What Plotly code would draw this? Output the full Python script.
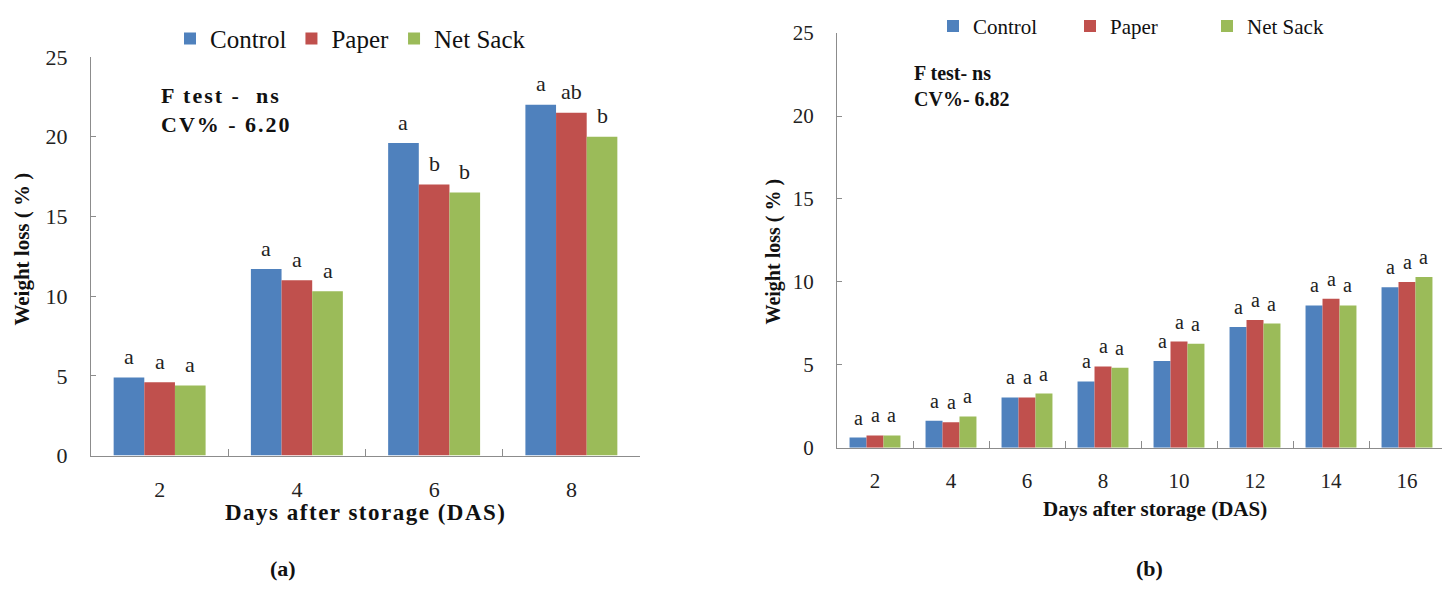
import plotly.graph_objects as go

# ---- data -------------------------------------------------------------
series_names = ["Control", "Paper", "Net Sack"]
series_colors = ["#4F81BD", "#C0504D", "#9BBB59"]

# (a) weight loss during storage, 2-8 DAS
days_a = ["2", "4", "6", "8"]
control_a = [4.9, 11.7, 19.6, 22.0]
paper_a = [4.6, 11.0, 17.0, 21.5]
netsack_a = [4.4, 10.3, 16.5, 20.0]
letters_control_a = ["a", "a", "a", "a"]
letters_paper_a = ["a", "a", "b", "ab"]
letters_netsack_a = ["a", "a", "b", "b"]

# (b) weight loss during storage, 2-16 DAS
days_b = ["2", "4", "6", "8", "10", "12", "14", "16"]
control_b = [0.62, 1.64, 3.04, 4.0, 5.23, 7.29, 8.58, 9.68]
paper_b = [0.75, 1.55, 3.04, 4.91, 6.41, 7.70, 8.99, 10.0]
netsack_b = [0.75, 1.89, 3.27, 4.83, 6.27, 7.49, 8.58, 10.3]
letters_control_b = ["a"] * 8
letters_paper_b = ["a"] * 8
letters_netsack_b = ["a"] * 8

stats_a = ["F test -\u00a0 ns", "CV% - 6.20"]
stats_b = ["F test- ns", "CV%- 6.82"]

y_ticks = [0, 5, 10, 15, 20, 25]

# ---- page geometry (pixels) -------------------------------------------
W, H = 1442, 594
SERIF = "'Liberation Serif', 'Times New Roman', serif"
AXIS_GREY = "#8C8C8C"
BARGAP = 0.33


def px(x):
    return x / W


def py(y):
    return 1 - y / H


def spaced(text, gap):
    # widen the lettering of panel (a) text
    return f'<span style="letter-spacing:{gap}px">{text}</span>'


# plot areas: left, right, top, bottom in pixels
area_a = (91, 640, 47, 463)
area_b = (837, 1442, 22, 455)
cat_w_b = 76.0  # category width of panel (b); its last category runs past the page edge

fig = go.Figure()

panel_a = [control_a, paper_a, netsack_a]
panel_b = [control_b, paper_b, netsack_b]
letters_a = [letters_control_a, letters_paper_a, letters_netsack_a]
letters_b = [letters_control_b, letters_paper_b, letters_netsack_b]

for name, color, vals in zip(series_names, series_colors, panel_a):
    fig.add_trace(go.Bar(x=days_a, y=vals, name=name, marker_color=color,
                         marker_line_width=0, xaxis="x", yaxis="y",
                         legend="legend", offsetgroup=name + "a"))

for name, color, vals in zip(series_names, series_colors, panel_b):
    fig.add_trace(go.Bar(x=days_b, y=vals, name=name, marker_color=color,
                         marker_line_width=0, xaxis="x2", yaxis="y2",
                         legend="legend2", offsetgroup=name + "b"))

annotations = []

# significance letters above each bar (x given as category index)
bar_w_a = (area_a[1] - area_a[0]) / len(days_a) * (1 - BARGAP) / 3
bar_w_b = cat_w_b * (1 - BARGAP) / 3
for k, (vals, lets) in enumerate(zip(panel_a, letters_a)):
    for i, (v, t) in enumerate(zip(vals, lets)):
        annotations.append(dict(x=i, y=v, xref="x", yref="y", text=t,
                                showarrow=False, xshift=(k - 1) * bar_w_a,
                                yshift=21, yanchor="middle",
                                font=dict(family=SERIF, size=22, color="#222")))
for k, (vals, lets) in enumerate(zip(panel_b, letters_b)):
    for i, (v, t) in enumerate(zip(vals, lets)):
        annotations.append(dict(x=i, y=v, xref="x2", yref="y2", text=t,
                                showarrow=False, xshift=(k - 1) * bar_w_b,
                                yshift=20, yanchor="middle",
                                font=dict(family=SERIF, size=20, color="#222")))

# statistics notes
annotations.append(dict(x=px(159), y=py(102), xref="paper", yref="paper",
                        text="<br>".join(spaced(s, 2) for s in stats_a),
                        showarrow=False, xanchor="left", yanchor="middle",
                        align="left",
                        font=dict(family=SERIF, size=22, color="#111",
                                  weight="bold")))
annotations.append(dict(x=px(912), y=py(77), xref="paper", yref="paper",
                        text="<br>".join(stats_b),
                        showarrow=False, xanchor="left", yanchor="middle",
                        align="left",
                        font=dict(family=SERIF, size=20, color="#111",
                                  weight="bold")))


# axis titles and panel captions
def label(x, y, text, size, angle=0):
    return dict(x=px(x), y=py(y), xref="paper", yref="paper", text=text,
                showarrow=False, xanchor="center", yanchor="middle",
                textangle=angle,
                font=dict(family=SERIF, size=size, color="#111", weight="bold"))


annotations += [
    label(22, 248, "Weight loss ( % )", 21, -90),
    label(773, 250, "Weight loss ( % )", 20, -90),
    label(365.5, 523, spaced("Days after storage (DAS)", 1.5), 23),
    label(1155, 519, "Days after storage (DAS)", 21),
    label(283, 581, "(a)", 22),
    label(1149, 581, "(b)", 22),
]

axis_common = dict(showgrid=False, zeroline=False, showline=True,
                   linecolor=AXIS_GREY, linewidth=1, ticks="inside",
                   tickcolor=AXIS_GREY)

fig.update_layout(
    width=W, height=H,
    margin=dict(l=0, r=0, t=0, b=0),
    paper_bgcolor="white", plot_bgcolor="white",
    font=dict(family=SERIF, color="#222"),
    barmode="group", bargap=BARGAP, bargroupgap=0,
    xaxis=dict(domain=[px(area_a[0]), px(area_a[1])], type="category",
               range=[-0.5, len(days_a) - 0.5], tickson="boundaries",
               ticklen=7, ticklabelstandoff=14,
               tickfont=dict(family=SERIF, size=22, color="#222"),
               anchor="y", **axis_common),
    yaxis=dict(domain=[py(area_a[3]), py(area_a[2])], range=[0, 25],
               tickvals=y_ticks, ticklen=5, ticklabelstandoff=18,
               tickfont=dict(family=SERIF, size=22, color="#222"),
               anchor="x", **axis_common),
    xaxis2=dict(domain=[px(area_b[0]), 1], type="category",
                range=[-0.5, -0.5 + (area_b[1] - area_b[0]) / cat_w_b],
                tickson="boundaries", ticklen=7, ticklabelstandoff=14,
                tickfont=dict(family=SERIF, size=21, color="#222"),
                anchor="y2", **axis_common),
    yaxis2=dict(domain=[py(area_b[3]), py(area_b[2])], range=[0, 25],
                tickvals=y_ticks, ticklen=5, ticklabelstandoff=18,
                tickfont=dict(family=SERIF, size=21, color="#222"),
                anchor="x2", **axis_common),
    legend=dict(orientation="h", x=px(170), y=py(28), xanchor="left",
                yanchor="middle", bgcolor="rgba(0,0,0,0)",
                font=dict(family=SERIF, size=25, color="#111")),
    legend2=dict(orientation="h", x=px(933), y=py(15), xanchor="left",
                 yanchor="middle", bgcolor="rgba(0,0,0,0)",
                 entrywidth=92, entrywidthmode="pixels",
                 font=dict(family=SERIF, size=21, color="#111")),
    annotations=annotations,
    showlegend=True,
)

fig.write_html("out.html")
